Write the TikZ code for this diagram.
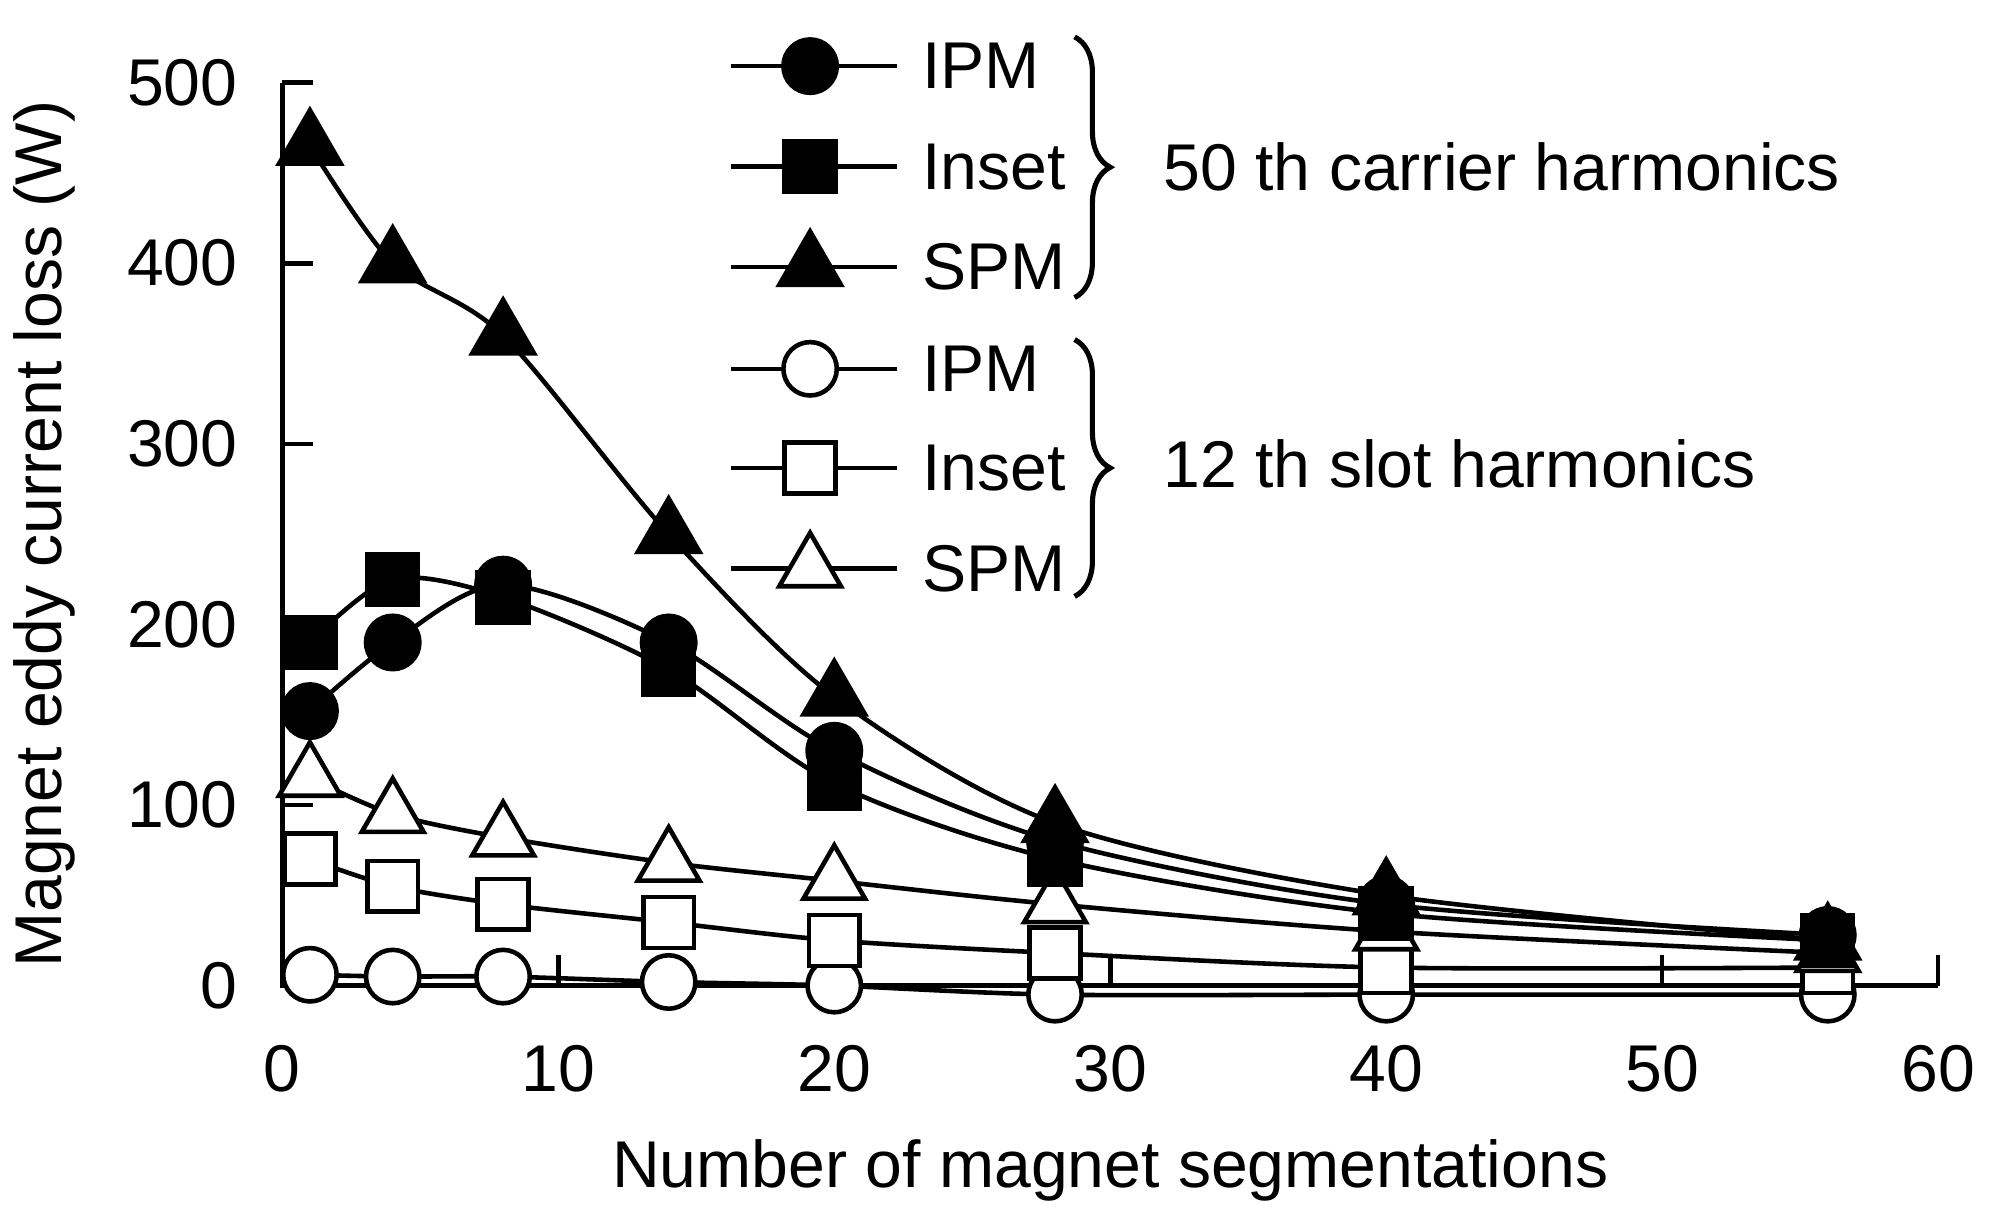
\documentclass[tikz,border=0pt]{standalone}
\usepackage{fontspec}
\setmainfont{Liberation Sans}
\usetikzlibrary{shapes.geometric,decorations.pathreplacing}
\begin{document}
\begin{tikzpicture}[x=0.5pt,y=0.5pt,
  curve/.style={line width=1.8pt},
  mk/.style={draw=black,line width=1.8pt,inner sep=0pt},
  fc/.style={mk,circle,minimum size=21pt,fill=black},
  oc/.style={mk,circle,minimum size=21pt,fill=white},
  fs/.style={mk,rectangle,minimum size=20pt,fill=black},
  os/.style={mk,rectangle,minimum size=20pt,fill=white},
  ft/.style={mk,regular polygon,regular polygon sides=3,minimum size=28pt,fill=black},
  ot/.style={mk,regular polygon,regular polygon sides=3,minimum size=28pt,fill=white},
  lbl/.style={font=\fontsize{26}{30}\selectfont},
  brace/.style={decorate,decoration={brace,amplitude=14pt},line width=2pt}]
\useasboundingbox (0,0) rectangle (1564,959);
\begin{scope}[shift={(222,184)},x=10.85pt,y=0.71pt]
% axes
\draw[line width=1.8pt] (0,500) -- (0,0) -- (60,0);
\foreach \v in {100,200,...,500} \draw[line width=1.8pt] (0,\v) -- ++(12pt,0);
\foreach \v in {10,20,...,60} \draw[line width=1.8pt] (\v,0) -- ++(0,12pt);
\foreach \v in {0,100,...,500} \node[lbl,anchor=east] (yl\v) at (-1.3,\v) {\v};
\foreach \v in {0,10,...,60} \node[lbl,anchor=north] (xl\v) at (\v,-28) {\v};
% curves
\draw[curve] plot[smooth,tension=0.5] coordinates {(1,152)(4,190)(8,222)(14,190)(20,130)(28,80)(40,45)(56,28)};
\draw[curve] plot[smooth,tension=0.5] coordinates {(1,190)(4,225)(8,215)(14,175)(20,112)(28,70)(40,40)(56,25)};
\draw[curve] plot[smooth,tension=0.5] coordinates {(1,465)(4,400)(8,360)(14,250)(20,160)(28,90)(40,50)(56,25)};
\draw[curve] plot[smooth,tension=0.5] coordinates {(1,6)(4,5)(8,5)(14,2)(20,0)(28,-5)(40,-5)(56,-5)};
\draw[curve] plot[smooth,tension=0.5] coordinates {(1,70)(4,55)(8,45)(14,35)(20,25)(28,18)(40,10)(56,10)};
\draw[curve] plot[smooth,tension=0.5] coordinates {(1,115)(4,95)(8,82)(14,68)(20,58)(28,45)(40,30)(56,18)};
% markers
\foreach \x/\y in {1/6,4/5,8/5,14/2,20/0,28/-5,40/-5,56/-5} \node[oc] at (\x,\y) {};
\foreach \x/\y in {1/70,4/55,8/45,14/35,20/25,28/18,40/10,56/10} \node[os] at (\x,\y) {};
\foreach \x/\y in {1/115,4/95,8/82,14/68,20/58,28/45,40/30,56/18} \node[ot] at (\x,\y) {};
\foreach \x/\y in {1/190,4/225,8/215,14/175,20/112,28/70,40/40,56/25} \node[fs] at (\x,\y) {};
\foreach \x/\y in {1/152,4/190,8/222,14/190,20/130,28/80,40/45,56/28} \node[fc] at (\x,\y) {};
\foreach \x/\y in {1/465,4/400,8/360,14/250,20/160,28/90,40/50,56/25} \node[ft] at (\x,\y) {};
\end{scope}
% legend
\foreach \i/\y/\s/\t in {1/907/fc/IPM,2/828/fs/Inset,3/749/ft/SPM,4/669/oc/IPM,5/591/os/Inset,6/512/ot/SPM}{
  \coordinate (la\i) at (575,\y);
  \coordinate (lb\i) at (705,\y);
  \draw[curve] (la\i) -- (lb\i);
  \node[\s] (lm\i) at (637,\y) {};
  \node[lbl,anchor=west] (lt\i) at (718,\y) {\t};
}
\draw[brace] (845,930) -- (845,725) coordinate[midway] (b1);
\draw[brace] (845,692) -- (845,490) coordinate[midway] (b2);
\node[lbl,anchor=west] (g1) at (908,828) {50 th carrier harmonics};
\node[lbl,anchor=west] (g2) at (908,594) {12 th slot harmonics};
\node[lbl,rotate=90] (yt) at (35,539) {Magnet eddy current loss (W)};
\node[lbl] (xt) at (873,39) {Number of magnet segmentations};
\end{tikzpicture}
\end{document}
